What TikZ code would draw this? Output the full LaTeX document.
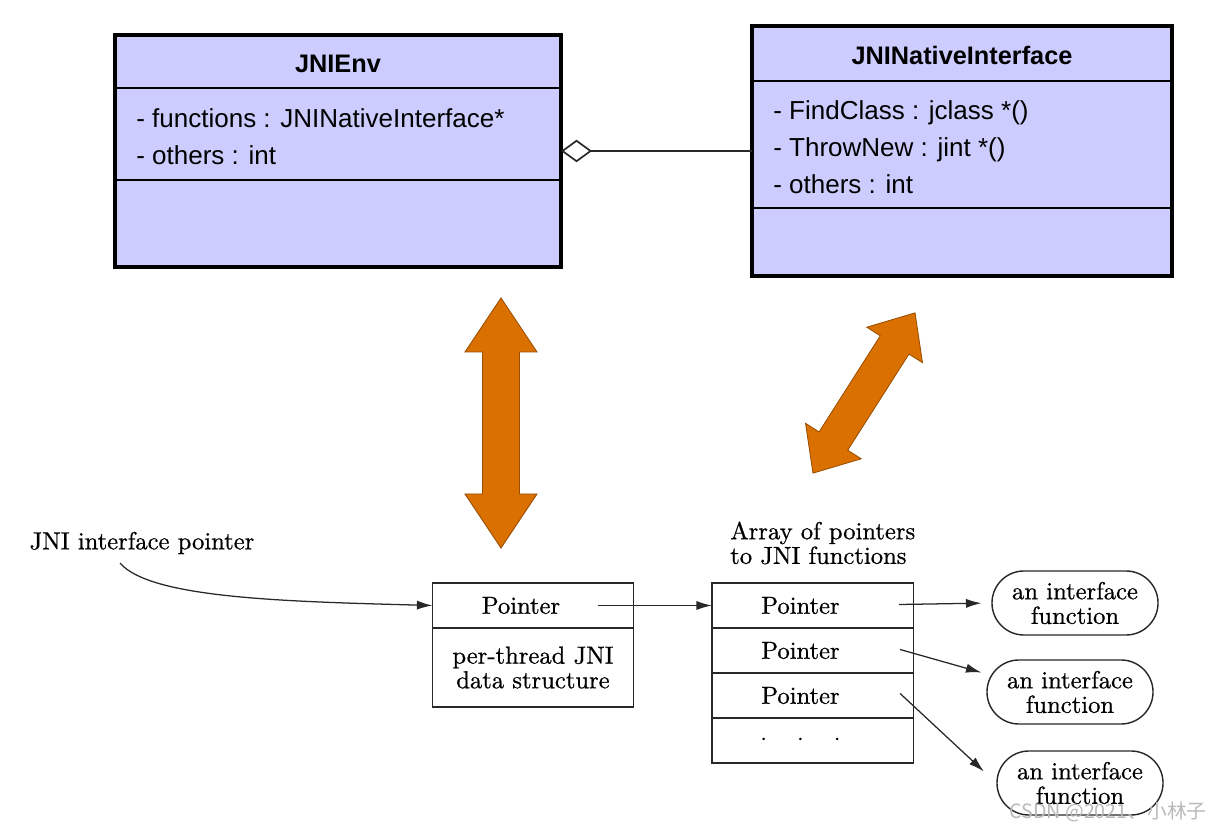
\documentclass[tikz,border=0pt]{standalone}
\usepackage{fontspec}
\usepackage{tikz}
\usetikzlibrary{arrows.meta,positioning,shapes.misc,calc}
\newfontfamily\umlfont{Liberation Sans}
\newfontfamily\cjkfont{Noto Sans CJK SC}
\newfontfamily\lowserif{lmroman10-regular.otf}[FakeBold=0.7]
\newcommand{\lowfont}{\lowserif\fontsize{17.5}{17.5}\selectfont}
\newcommand{\ptrtext}[1]{#1\kern0.6cm\relax}
\definecolor{umlfill}{RGB}{204,204,255}
\definecolor{jorange}{RGB}{218,112,0}
\definecolor{wire}{RGB}{40,40,40}

\begin{document}
\begin{tikzpicture}[x=0.025cm,y=-0.025cm,
    umlbox/.style={draw,line width=2.3pt,fill=umlfill,inner sep=0pt,outer sep=0pt},
    umlsep/.style={line width=1.5pt},
    umltitle/.style={font=\umlfont\bfseries\fontsize{18}{22}\selectfont},
    umlattr/.style={font=\umlfont\fontsize{18.5}{26.3}\selectfont,align=left,anchor=west,inner sep=0pt},
    cell/.style={draw=wire,line width=0.9pt,minimum width=5.03cm,minimum height=1.125cm,inner sep=0pt,outer sep=0pt,font=\lowfont},
    fnbox/.style={draw=wire,line width=1pt,rounded rectangle,minimum width=4.15cm,minimum height=1.6cm,align=center,inner sep=0pt,font=\lowfont},
    ptr/.style={draw=wire,line width=0.9pt,-{Latex[length=11pt,width=6.5pt]}},
  ]
    \path[fill=white,use as bounding box] (0,0) rectangle (1219,832);

    % UML part
    \node[umlbox,minimum width=11.15cm,minimum height=5.8cm] (env) at (338,151) {};
    \node[umltitle] (envtitle) at (338,64) {JNIEnv};
    \draw[umlsep] ($(env.north west)+(0,53)$) -- ($(env.north east)+(0,53)$);
    \draw[umlsep] ($(env.north west)+(0,145)$) -- ($(env.north east)+(0,145)$);
    \node[umlattr] (envattr) at (136,137) {- functions : JNINativeInterface*\\- others : int};

    \node[umlbox,minimum width=10.5cm,minimum height=6.25cm] (native) at (962,151) {};
    \node[umltitle] (nativetitle) at (962,55) {JNINativeInterface};
    \draw[umlsep] ($(native.north west)+(0,55)$) -- ($(native.north east)+(0,55)$);
    \draw[umlsep] ($(native.north west)+(0,182)$) -- ($(native.north east)+(0,182)$);
    \node[umlattr] (nativeattr) at (773,147) {- FindClass : jclass *()\\- ThrowNew : jint *()\\- others : int};

    \draw[wire,line width=1.2pt,{Diamond[open,length=22pt,width=16pt,line width=1.2pt]}-] (env.east) -- (native.west);

    % big orange arrows
    \foreach \cx/\cy/\ang/\len/\hw/\hl/\sw in {501/423/90/250/72/54/37, 864/393/57.5/190/66/38/34}{
      \begin{scope}[shift={(\cx,\cy)},rotate=\ang]
        \fill[jorange,draw=jorange!70!black,line width=0.6pt] ({-\len/2},0) -- ({-\len/2+\hl},{\hw/2}) -- ({-\len/2+\hl},{\sw/2})
          -- ({\len/2-\hl},{\sw/2}) -- ({\len/2-\hl},{\hw/2}) -- ({\len/2},0) -- ({\len/2-\hl},{-\hw/2})
          -- ({\len/2-\hl},{-\sw/2}) -- ({-\len/2+\hl},{-\sw/2}) -- ({-\len/2+\hl},{-\hw/2}) -- cycle;
      \end{scope}
    }

    % JNI data structures
    \node[font=\lowfont] (jniptr) at (142,543) {JNI interface pointer};
    \node[cell] (jnip) at (533,605.5) {\ptrtext{Pointer}};
    \node[cell,minimum height=1.975cm,align=center,below=0pt of jnip] (perthread) {per-thread JNI\\data structure};
    \draw[wire,line width=1.8pt] (jnip.south west) -- (jnip.south east);

    \node[font=\lowfont,align=left,anchor=west,inner sep=0pt] (arrcap) at (730,543) {Array of pointers\\to JNI functions};
    \node[cell] (arr1) at (812.5,605.5) {\ptrtext{Pointer}};
    \node[cell,below=0pt of arr1] (arr2) {\ptrtext{Pointer}};
    \node[cell,below=0pt of arr2] (arr3) {\ptrtext{Pointer}};
    \node[cell,below=0pt of arr3] (arr4) {\ptrtext{$\cdot\quad\cdot\quad\cdot$}};
    \foreach \r in {1,2,3}
      \draw[wire,line width=1.8pt] (arr\r.south west) -- (arr\r.south east);

    \node[fnbox] (fn1) at (1075,603) {an interface\\function};
    \node[fnbox] (fn2) at (1070,692) {an interface\\function};
    \node[fnbox] (fn3) at (1080,783) {an interface\\function};

    \draw[ptr] ($(jniptr.south)+(-22,4)$) .. controls +(30,35) and +(-150,-4) .. (jnip.west);
    \draw[ptr] ($(jnip.east)+(-36,0)$) -- (arr1.west);
    \draw[ptr,shorten >=7pt] ($(arr1.east)+(-14,-1)$) -- (fn1.west);
    \draw[ptr,shorten >=7pt] ($(arr2.east)+(-13,-1)$) -- (fn2.168);
    \draw[ptr,shorten >=12pt] ($(arr3.east)+(-13,-2)$) -- (fn3.west);

    \node[text=gray!55,font=\cjkfont\fontsize{14}{16}\selectfont] (mark) at (1108,812) {CSDN @2021、小林子};
  \end{tikzpicture}
\end{document}
